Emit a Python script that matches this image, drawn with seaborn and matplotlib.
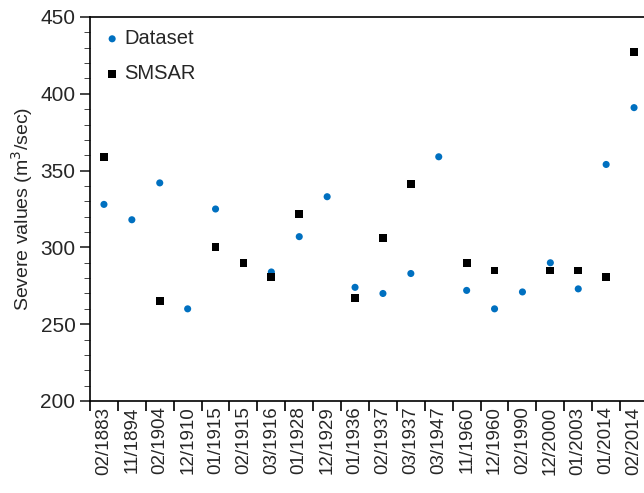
import matplotlib
matplotlib.use("Agg")
import matplotlib.pyplot as plt
import seaborn as sns
import numpy as np
import pandas as pd
from matplotlib.ticker import MultipleLocator, FixedLocator

sns.set_style("ticks")
plt.rcParams['font.family'] = ['Liberation Sans', 'DejaVu Sans']

categories = ["02/1883","11/1894","02/1904","12/1910","01/1915","02/1915","03/1916","01/1928",
              "12/1929","01/1936","02/1937","03/1937","03/1947","11/1960","12/1960","02/1990",
              "12/2000","01/2003","01/2014","02/2014"]
dataset = [328,318,342,260,325,np.nan,284,307,333,274,270,283,359,272,260,271,290,273,354,391]
smsar = [359,np.nan,265,np.nan,300,290,281,322,np.nan,267,306,341,np.nan,290,285,np.nan,285,285,281,427]

df = pd.DataFrame({"cat": categories, "x": np.arange(len(categories)), "Dataset": dataset, "SMSAR": smsar})

fig = plt.figure(figsize=(6.44, 4.93), dpi=100)
ax = fig.add_axes([90/644, 1-401/493, 558/644, 384/493])
sns.scatterplot(data=df, x="x", y="Dataset", ax=ax, color="#0070C0", s=26, marker="o",
                edgecolor="none", label="Dataset")
sns.scatterplot(data=df, x="x", y="SMSAR", ax=ax, color="black", s=32, marker="s",
                edgecolor="none", label="SMSAR")
ax.set_xlim(-0.5, len(categories) - 0.5)
ax.set_ylim(200, 450)
ax.set_xticks(np.arange(len(categories)))
ax.set_xticklabels(categories, rotation=90, fontsize=13.5)
ax.tick_params(axis="x", which="major", length=0, pad=4)
ax.xaxis.set_minor_locator(FixedLocator(np.arange(-0.5, len(categories), 1)))
ax.tick_params(axis="x", which="minor", length=7, width=1.2, color="black")
ax.yaxis.set_major_locator(MultipleLocator(50))
ax.yaxis.set_minor_locator(MultipleLocator(10))
ax.tick_params(axis="y", which="major", length=7, width=1.2, labelsize=15)
ax.tick_params(axis="y", which="minor", length=4)
ax.set_xlabel("")
ax.set_ylabel("Severe values (m$^3$/sec)", fontsize=14)
for s in ax.spines.values():
    s.set_color("black")
    s.set_linewidth(1.2)
leg = ax.legend(loc="upper left", frameon=False, fontsize=14.5, handletextpad=0.1,
                borderaxespad=0.2, labelspacing=0.8, handlelength=1)
fig.savefig("out.png", dpi=100)
